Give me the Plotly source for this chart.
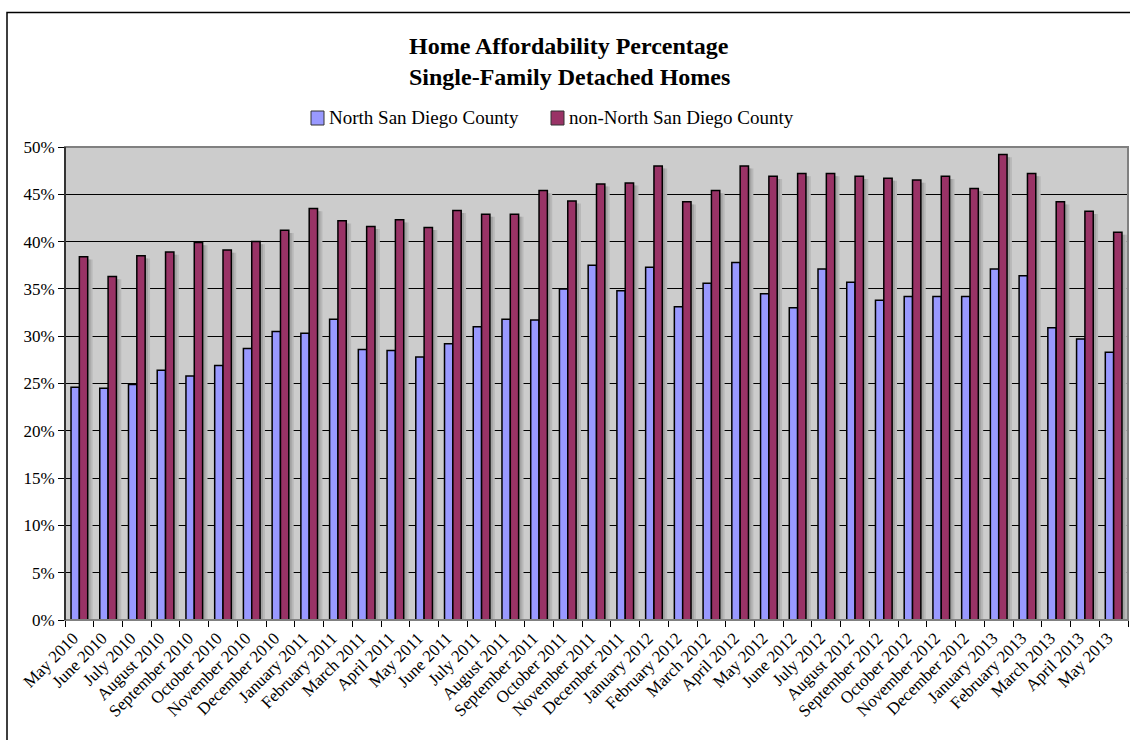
import plotly.graph_objects as go

months = [
    "May 2010", "June 2010", "July 2010", "August 2010", "September 2010",
    "October 2010", "November 2010", "December 2010", "January 2011",
    "February 2011", "March 2011", "April 2011", "May 2011", "June 2011",
    "July 2011", "August 2011", "September 2011", "October 2011",
    "November 2011", "December 2011", "January 2012", "February 2012",
    "March 2012", "April 2012", "May 2012", "June 2012", "July 2012",
    "August 2012", "September 2012", "October 2012", "November 2012",
    "December 2012", "January 2013", "February 2013", "March 2013",
    "April 2013", "May 2013",
]

north_sd = [
    24.6, 24.5, 24.9, 26.4, 25.8, 26.9, 28.7, 30.5, 30.3, 31.8, 28.6, 28.5,
    27.8, 29.2, 31.0, 31.8, 31.7, 35.0, 37.5, 34.8, 37.3, 33.1, 35.6, 37.8,
    34.5, 33.0, 37.1, 35.7, 33.8, 34.2, 34.2, 34.2, 37.1, 36.4, 30.9, 29.7,
    28.3,
]

non_north_sd = [
    38.4, 36.3, 38.5, 38.9, 39.9, 39.1, 40.0, 41.2, 43.5, 42.2, 41.6, 42.3,
    41.5, 43.3, 42.9, 42.9, 45.4, 44.3, 46.1, 46.2, 48.0, 44.2, 45.4, 48.0,
    46.9, 47.2, 47.2, 46.9, 46.7, 46.5, 46.9, 45.6, 49.2, 47.2, 44.2, 43.2,
    41.0,
]

series_names = ["North San Diego County", "non-North San Diego County"]
series_colors = ["#9999FF", "#993366"]
title_lines = ["Home Affordability Percentage", "Single-Family Detached Homes"]

FONT = "Liberation Serif"
BAR_W = 0.29
SHADOW_DROP = 0.28  # drop of the shadow top, in axis percent units

# plot-area geometry in pixels
W, H = 1130, 740
L, R, T, B = 65, 2, 147, 120
plot_w = W - L - R
plot_h = H - T - B


def px_x(p):
    return (p - L) / plot_w


def px_y(p):
    return (H - B - p) / plot_h


fig = go.Figure()

# soft drop shadows behind the taller bars
for dx, col in [(0.17, "#B8B8B8"), (0.10, "#A2A2A2")]:
    fig.add_trace(go.Bar(
        x=months, y=[v - SHADOW_DROP for v in non_north_sd],
        width=BAR_W, offset=dx,
        marker=dict(color=col, line=dict(width=0)),
        showlegend=False, hoverinfo="skip",
    ))

for vals, name, col, off in [
    (north_sd, series_names[0], series_colors[0], -BAR_W),
    (non_north_sd, series_names[1], series_colors[1], 0),
]:
    fig.add_trace(go.Bar(
        x=months, y=vals, name=name,
        width=BAR_W, offset=off,
        marker=dict(color=col, line=dict(color="black", width=1.5)),
        showlegend=False,
    ))

shapes = [
    # plot area frame
    dict(type="rect", xref="paper", yref="paper", x0=0, x1=1, y0=0, y1=1,
         line=dict(color="#808080", width=2), layer="above"),
    # left value axis line
    dict(type="line", xref="paper", yref="paper", x0=0, x1=0, y0=0, y1=1,
         line=dict(color="black", width=1.2), layer="above"),
    # outer chart border
    dict(type="rect", xref="paper", yref="paper",
         x0=px_x(7), x1=px_x(1160), y0=px_y(800), y1=px_y(12.5),
         line=dict(color="black", width=1.5), layer="above"),
]

annotations = []

# two-line chart title
for text, cy in zip(title_lines, [46, 77]):
    annotations.append(dict(
        text=f"<b>{text}</b>", xref="paper", yref="paper",
        x=px_x(569), y=px_y(cy), xanchor="center", yanchor="middle",
        showarrow=False, font=dict(family=FONT, size=24, color="black"),
    ))

# legend: swatch + label for each series
legend_y = 118
for name, col, sx in zip(series_names, series_colors, [311, 551]):
    shapes.append(dict(
        type="rect", xref="paper", yref="paper",
        x0=px_x(sx), x1=px_x(sx + 13),
        y0=px_y(legend_y + 7), y1=px_y(legend_y - 7),
        fillcolor=col, line=dict(color="#333333", width=1),
    ))
    annotations.append(dict(
        text=name, xref="paper", yref="paper",
        x=px_x(sx + 16), y=px_y(legend_y), xanchor="left", yanchor="middle",
        showarrow=False, font=dict(family=FONT, size=19, color="black"),
    ))

fig.update_layout(
    width=W, height=H,
    margin=dict(l=L, r=R, t=T, b=B, autoexpand=False),
    paper_bgcolor="white",
    plot_bgcolor="#CCCCCC",
    barmode="overlay",
    showlegend=False,
    font=dict(family=FONT, color="black", size=17),
    xaxis=dict(
        type="category",
        tickangle=-45,
        tickson="boundaries",
        ticks="outside", ticklen=6, tickcolor="black", tickwidth=1,
        ticklabelshift=-6,
        ticklabelstandoff=4,
        showgrid=False,
        showline=False,
        tickfont=dict(family=FONT, size=17, color="black"),
        range=[-0.5, len(months) - 0.5],
    ),
    yaxis=dict(
        range=[0, 50],
        dtick=5,
        ticksuffix="%",
        ticks="outside", ticklen=6, tickcolor="black", tickwidth=1,
        showgrid=True, gridcolor="black", gridwidth=1,
        zeroline=False,
        showline=False,
        tickfont=dict(family=FONT, size=17, color="black"),
    ),
    shapes=shapes,
    annotations=annotations,
)

fig.write_html("out.html")
